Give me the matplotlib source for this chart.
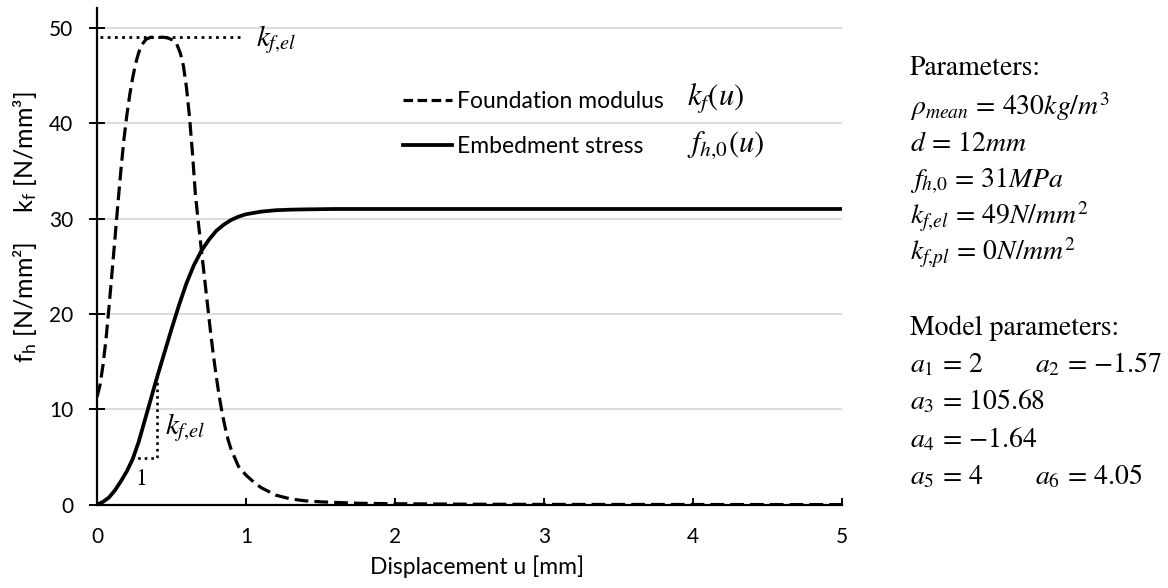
import matplotlib
matplotlib.use("Agg")
import matplotlib.pyplot as plt
from matplotlib.lines import Line2D

# ---- data ----
u_kf = [0, 0.02, 0.04, 0.06, 0.08, 0.10, 0.12, 0.14, 0.16, 0.18, 0.20, 0.22, 0.24,
        0.26, 0.28, 0.30, 0.33, 0.36, 0.40, 0.45, 0.48, 0.51, 0.535, 0.56, 0.58,
        0.60, 0.62, 0.64, 0.66, 0.68, 0.70, 0.72, 0.74, 0.76, 0.78, 0.80, 0.82,
        0.84, 0.86, 0.88, 0.90, 0.95, 1.0, 1.05, 1.1, 1.2, 1.3, 1.4, 1.5, 1.75,
        2.0, 2.5, 3.0, 4.0, 5.0]
kf = [11.3, 12.5, 14.6, 17.3, 20.6, 24.2, 27.8, 31.5, 35.0, 38.2, 40.8, 43.0, 44.8,
      46.3, 47.4, 48.2, 48.8, 49.0, 49.0, 49.0, 48.9, 48.7, 48.3, 47.3, 46.0,
      43.8, 40.8, 37.0, 32.6, 29.6, 26.8, 24.0, 21.2, 18.4, 15.8, 13.5, 11.4,
      9.6, 8.1, 6.8, 5.8, 4.0, 3.1, 2.4, 1.8, 1.0, 0.6, 0.4, 0.3, 0.15,
      0.1, 0.05, 0.03, 0.02, 0.01]

u_fh = [0, 0.04, 0.08, 0.12, 0.16, 0.20, 0.24, 0.28, 0.32, 0.36, 0.40, 0.45, 0.50,
        0.55, 0.60, 0.65, 0.70, 0.75, 0.80, 0.85, 0.90, 0.95, 1.0, 1.1, 1.2, 1.3,
        1.4, 1.6, 2.0, 3.0, 4.0, 5.0]
fh = [0, 0.3, 0.75, 1.5, 2.45, 3.5, 4.8, 6.6, 8.8, 11.0, 13.2, 15.8, 18.4,
      20.9, 23.2, 25.1, 26.6, 27.75, 28.7, 29.35, 29.85, 30.2, 30.45, 30.72, 30.87, 30.93,
      30.96, 31.0, 31.0, 31.0, 31.0, 31.0]

kf_el = 49
kf_el_line_u = [0.02, 0.98]
tri_u = [0.23, 0.40, 0.40]
tri_v = [4.9, 4.9, 13.3]

x_ticks = [0, 1, 2, 3, 4, 5]
y_ticks = [0, 10, 20, 30, 40, 50]

legend_labels = ["Foundation modulus", "Embedment stress"]
legend_math = [r"$k_f(u)$", r"$f_{h{,}0}(u)$"]

param_lines = [
    r"Parameters:",
    r"$\rho_{mean}\,=\,430kg/m^3$",
    r"$d\,=\,12mm$",
    r"$f_{h{,}0}\,=\,31MPa$",
    r"$k_{f{,}el}\,=\,49N/mm^2$",
    r"$k_{f{,}pl}\,=\,0N/mm^2$",
    r"Model parameters:",
    r"$a_1\,=\,2$",
    r"$a_3\,=\,105.68$",
    r"$a_4\,=\,{-}1.64$",
    r"$a_5\,=\,4$",
]
param_rows = [68, 107, 144, 181, 217, 253, 328, 365, 402, 440, 477]
param_right = [r"$a_2\,=\,{-}1.57$", r"$a_6\,=\,4.05$"]
param_right_rows = [365, 477]

# ---- styling ----
plt.rcParams["font.family"] = ["Lato", "DejaVu Sans"]
plt.rcParams["mathtext.fontset"] = "stix"

W, H = 1168, 588
fig = plt.figure(figsize=(W / 100, H / 100), dpi=100)
x0, x1 = 97, 842
y0, y1 = 504.7, 8
ax = fig.add_axes([x0 / W, (H - y0) / H, (x1 - x0) / W, (y0 - y1) / H])

ax.set_xlim(0, 5)
ax.set_ylim(0, 52.07)

ax.plot(u_kf, kf, color="black", lw=2.3, linestyle=(0, (4.3, 1.9)), solid_capstyle="butt",
        label=legend_labels[0], zorder=3)
ax.plot(u_fh, fh, color="black", lw=2.7, label=legend_labels[1], zorder=4)

ax.plot(kf_el_line_u, [kf_el, kf_el], color="black", lw=2.0, linestyle=(0, (1, 1.6)), zorder=3)
ax.plot(tri_u, tri_v, color="black", lw=1.9, linestyle=(0, (1, 1.5)), zorder=3)

ax.text(1.065, 48.7, r"$k_{f{,}el}$", fontsize=21, va="center", ha="left")
ax.text(0.455, 8.1, r"$k_{f{,}el}$", fontsize=21, va="center", ha="left")
ax.text(0.30, 2.7, "1", fontsize=17, va="center", ha="center", family="STIXGeneral")

ax.set_xticks(x_ticks)
ax.set_yticks(y_ticks)
ax.set_xticklabels([str(t) for t in x_ticks])
ax.set_yticklabels([str(t) for t in y_ticks])
ax.tick_params(axis="y", direction="inout", length=12, width=1.4, labelsize=15, pad=11)
ax.tick_params(axis="x", direction="in", length=5, width=1.4, labelsize=15, pad=16)
ax.grid(axis="y", color="#d9d9d9", lw=1.3, zorder=0)
ax.set_axisbelow(True)
for s in ["top", "right"]:
    ax.spines[s].set_visible(False)
for s in ["left", "bottom"]:
    ax.spines[s].set_linewidth(1.6)

ax.set_xlabel("Displacement u [mm]", fontsize=16.5)
ax.xaxis.set_label_coords((477 - x0) / (x1 - x0), -(567 - y0) / (y0 - y1), transform=ax.transAxes)
ax.xaxis.label.set_va("center")

ylab_x = -(x0 - 25) / (x1 - x0)
ax.text(ylab_x, (y0 - 152) / (y0 - y1), r"k$_\mathregular{f}$ [N/mm³]", rotation=90,
        transform=ax.transAxes, ha="center", va="center", fontsize=18)
ax.text(ylab_x, (y0 - 302) / (y0 - y1), r"f$_\mathregular{h}$ [N/mm²]", rotation=90,
        transform=ax.transAxes, ha="center", va="center", fontsize=18)

handles = [Line2D([], [], color="black", lw=2.3, linestyle=(0, (3.0, 1.4))),
           Line2D([], [], color="black", lw=2.7)]
leg = ax.legend(handles, legend_labels, loc="upper left", frameon=False, fontsize=16.5,
                bbox_to_anchor=((400 - x0) / (x1 - x0) - 0.012, (y0 - 80) / (y0 - y1)),
                handlelength=2.15, handletextpad=0.23, labelspacing=1.02, borderpad=0)
for i, m in enumerate(legend_math):
    ax.text((687 - x0) / (x1 - x0), (y0 - (99 + 46 * i)) / (y0 - y1), m, fontsize=22,
            transform=ax.transAxes, va="center", ha="left")

# parameters block
for line, yy in zip(param_lines, param_rows):
    fig.text(910 / W, 1 - yy / H, line, fontsize=20, va="center", ha="left", family="STIXGeneral")
for line, yy in zip(param_right, param_right_rows):
    fig.text(1035 / W, 1 - yy / H, line, fontsize=20, va="center", ha="left", family="STIXGeneral")

fig.savefig("out.png", dpi=100)
